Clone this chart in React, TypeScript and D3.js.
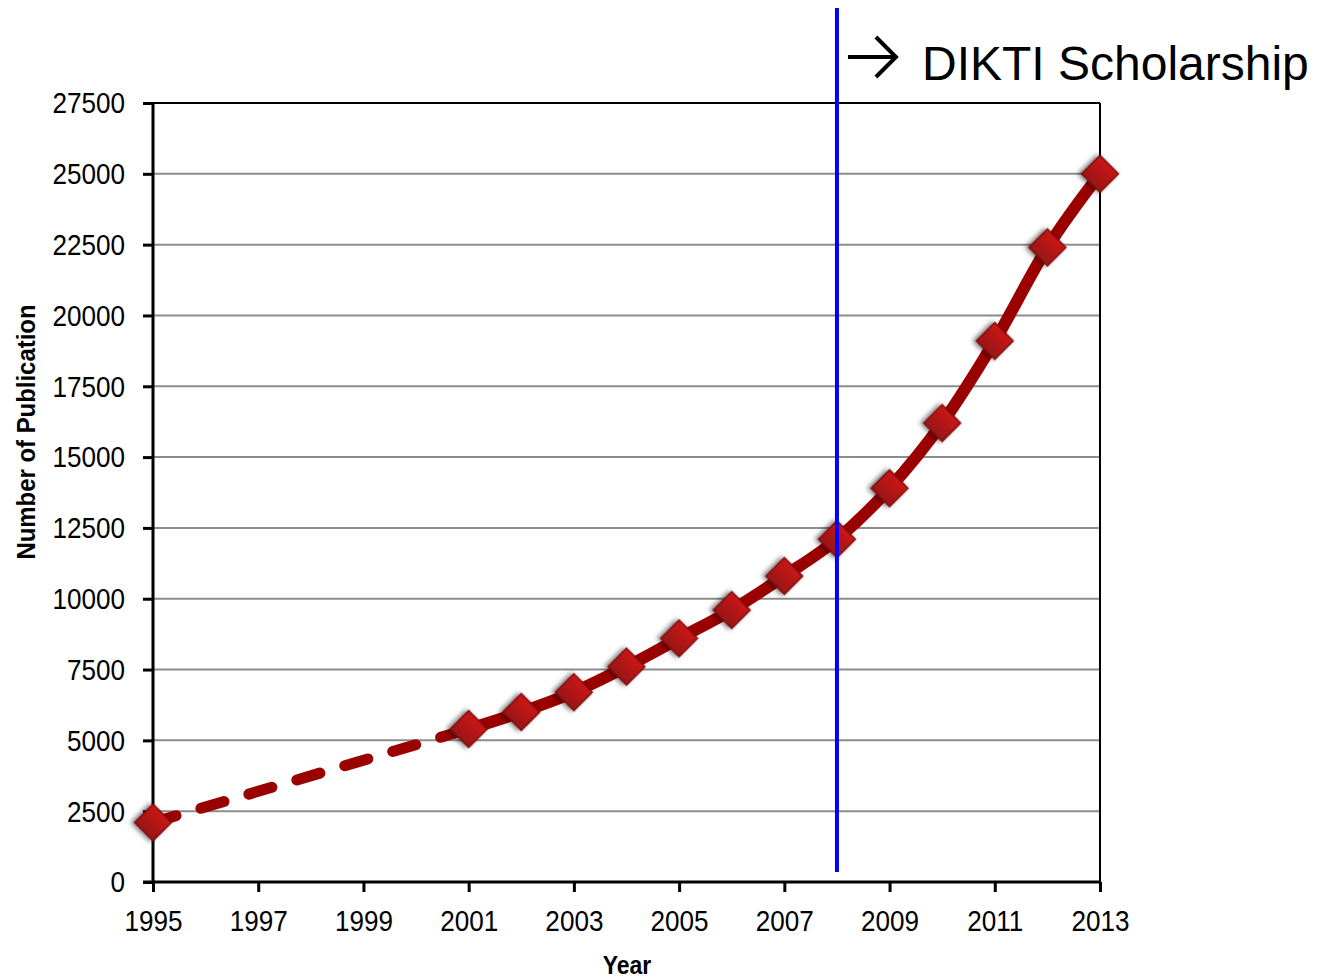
import { useRef, useEffect } from 'react'
import * as d3 from 'd3'

const years = [1995, 2001, 2002, 2003, 2004, 2005, 2006, 2007, 2008, 2009, 2010, 2011, 2012, 2013]
const publications = [2100, 5400, 6000, 6700, 7600, 8600, 9600, 10800, 12100, 13900, 16200, 19100, 22400, 25000]
const yTicks = [0, 2500, 5000, 7500, 10000, 12500, 15000, 17500, 20000, 22500, 25000, 27500]
const xTicks = [1995, 1997, 1999, 2001, 2003, 2005, 2007, 2009, 2011, 2013]
const markerYear = 2008

export default function App() {
  const svgRef = useRef<SVGSVGElement>(null)

  useEffect(() => {
    if (!svgRef.current) return
    const svg = d3.select(svgRef.current)
    svg.selectAll('*').remove()

    const width = 1319
    const height = 978
    const margin = { top: 103, right: 219, bottom: 96, left: 153 }
    const innerW = width - margin.left - margin.right
    const innerH = height - margin.top - margin.bottom
    const squeeze = 0.9

    svg.attr('width', width).attr('height', height)

    const defs = svg.append('defs')
    const grad = defs.append('linearGradient').attr('id', 'dia').attr('x1', 0).attr('y1', 0).attr('x2', 0).attr('y2', 1)
    grad.append('stop').attr('offset', '0%').attr('stop-color', '#cc1414')
    grad.append('stop').attr('offset', '100%').attr('stop-color', '#981818')
    const filt = defs.append('filter').attr('id', 'shadow').attr('x', '-50%').attr('y', '-50%').attr('width', '200%').attr('height', '200%')
    filt.append('feDropShadow').attr('dx', -2).attr('dy', 2).attr('stdDeviation', 2.5).attr('flood-color', '#000').attr('flood-opacity', 0.55)

    const g = svg.append('g').attr('transform', `translate(${margin.left},${margin.top})`)

    const x = d3.scaleLinear().domain([1995, 2013]).range([0, innerW])
    const y = d3.scaleLinear().domain([0, 27500]).range([innerH, 0])

    const font = '"Liberation Sans", Arial, sans-serif'

    // grid lines
    g.selectAll('.grid')
      .data(yTicks.filter((d) => d > 0 && d < 27500))
      .enter()
      .append('line')
      .attr('x1', 0)
      .attr('x2', innerW)
      .attr('y1', (d) => y(d))
      .attr('y2', (d) => y(d))
      .attr('stroke', '#8c8c8c')
      .attr('stroke-width', 2)

    // frame top + right
    g.append('line').attr('x1', 0).attr('x2', innerW).attr('y1', 0).attr('y2', 0).attr('stroke', '#000').attr('stroke-width', 2)
    g.append('line').attr('x1', innerW).attr('x2', innerW).attr('y1', 0).attr('y2', innerH).attr('stroke', '#000').attr('stroke-width', 2)

    // y axis
    const yAxis = g
      .append('g')
      .call(d3.axisLeft(y).tickValues(yTicks).tickFormat((d) => `${d}`).tickSize(10).tickPadding(17))
    yAxis.select('.domain').attr('stroke', '#000').attr('stroke-width', 3).attr('d', `M0,${innerH}V0`)
    yAxis.selectAll('.tick line').attr('stroke', '#000').attr('stroke-width', 3)
    yAxis.selectAll('text')
      .attr('fill', '#000')
      .attr('font-size', '29px')
      .attr('font-family', font)
      .attr('dy', '0.34em')
      .attr('x', -28 / squeeze)
      .attr('transform', `scale(${squeeze},1)`)

    // x axis
    const xAxis = g
      .append('g')
      .attr('transform', `translate(0,${innerH})`)
      .call(d3.axisBottom(x).tickValues(xTicks).tickFormat((d) => `${d}`).tickSize(10).tickPadding(18))
    xAxis.select('.domain').attr('stroke', '#000').attr('stroke-width', 3).attr('d', `M-10,0H${innerW}`)
    xAxis.selectAll('.tick line').attr('stroke', '#000').attr('stroke-width', 3)
    xAxis.selectAll('text')
      .attr('fill', '#000')
      .attr('font-size', '29px')
      .attr('font-family', font)
      .attr('transform', `scale(${squeeze},1)`)

    // axis titles
    svg.append('text')
      .attr('transform', `translate(35,432) rotate(-90) scale(0.92,1)`)
      .attr('text-anchor', 'middle')
      .attr('font-size', '26px')
      .attr('font-weight', 'bold')
      .attr('font-family', font)
      .text('Number of Publication')

    svg.append('text')
      .attr('transform', `translate(627,974) scale(0.92,1)`)
      .attr('text-anchor', 'middle')
      .attr('font-size', '25px')
      .attr('font-weight', 'bold')
      .attr('font-family', font)
      .text('Year')

    const pts = years.map((yr, i) => [yr, publications[i]] as [number, number])

    // dashed gap segment
    g.append('path')
      .datum(pts.slice(0, 2))
      .attr('fill', 'none')
      .attr('stroke', '#9b0000')
      .attr('stroke-width', 11)
      .attr('stroke-linecap', 'round')
      .attr('stroke-dasharray', '24 26')
      .attr('d', d3.line().x((d) => x(d[0])).y((d) => y(d[1])))

    const line = d3
      .line<[number, number]>()
      .x((d) => x(d[0]))
      .y((d) => y(d[1]))
      .curve(d3.curveMonotoneX)

    g.append('path')
      .datum(pts.slice(1))
      .attr('fill', 'none')
      .attr('stroke', '#9b0000')
      .attr('stroke-width', 12)
      .attr('stroke-linejoin', 'round')
      .attr('d', line)

    // markers
    const symbol = d3.symbol().type(d3.symbolSquare).size(26 * 26)
    g.selectAll('.pt')
      .data(pts)
      .enter()
      .append('path')
      .attr('d', symbol)
      .attr('transform', (d) => `translate(${x(d[0])},${y(d[1])}) rotate(45)`)
      .attr('fill', 'url(#dia)')
      .attr('stroke', '#7e0c0c')
      .attr('stroke-width', 1.5)
      .attr('filter', 'url(#shadow)')

    // scholarship line
    svg.append('line')
      .attr('x1', margin.left + x(markerYear))
      .attr('x2', margin.left + x(markerYear))
      .attr('y1', 8)
      .attr('y2', 872)
      .attr('stroke', '#0000ff')
      .attr('stroke-width', 4)

    // arrow annotation
    const ax = margin.left + x(markerYear) + 11
    svg.append('path')
      .attr('d', `M${ax},57H${ax + 46}M${ax + 28},37L${ax + 48},57L${ax + 28},77`)
      .attr('fill', 'none')
      .attr('stroke', '#000')
      .attr('stroke-width', 4)

    svg.append('text')
      .attr('x', 922)
      .attr('y', 80)
      .attr('font-size', '48px')
      .attr('font-family', font)
      .text('DIKTI Scholarship')
  }, [])

  return <svg ref={svgRef} style={{ position: 'absolute', left: 0, top: 0, background: '#fff' }} />
}
